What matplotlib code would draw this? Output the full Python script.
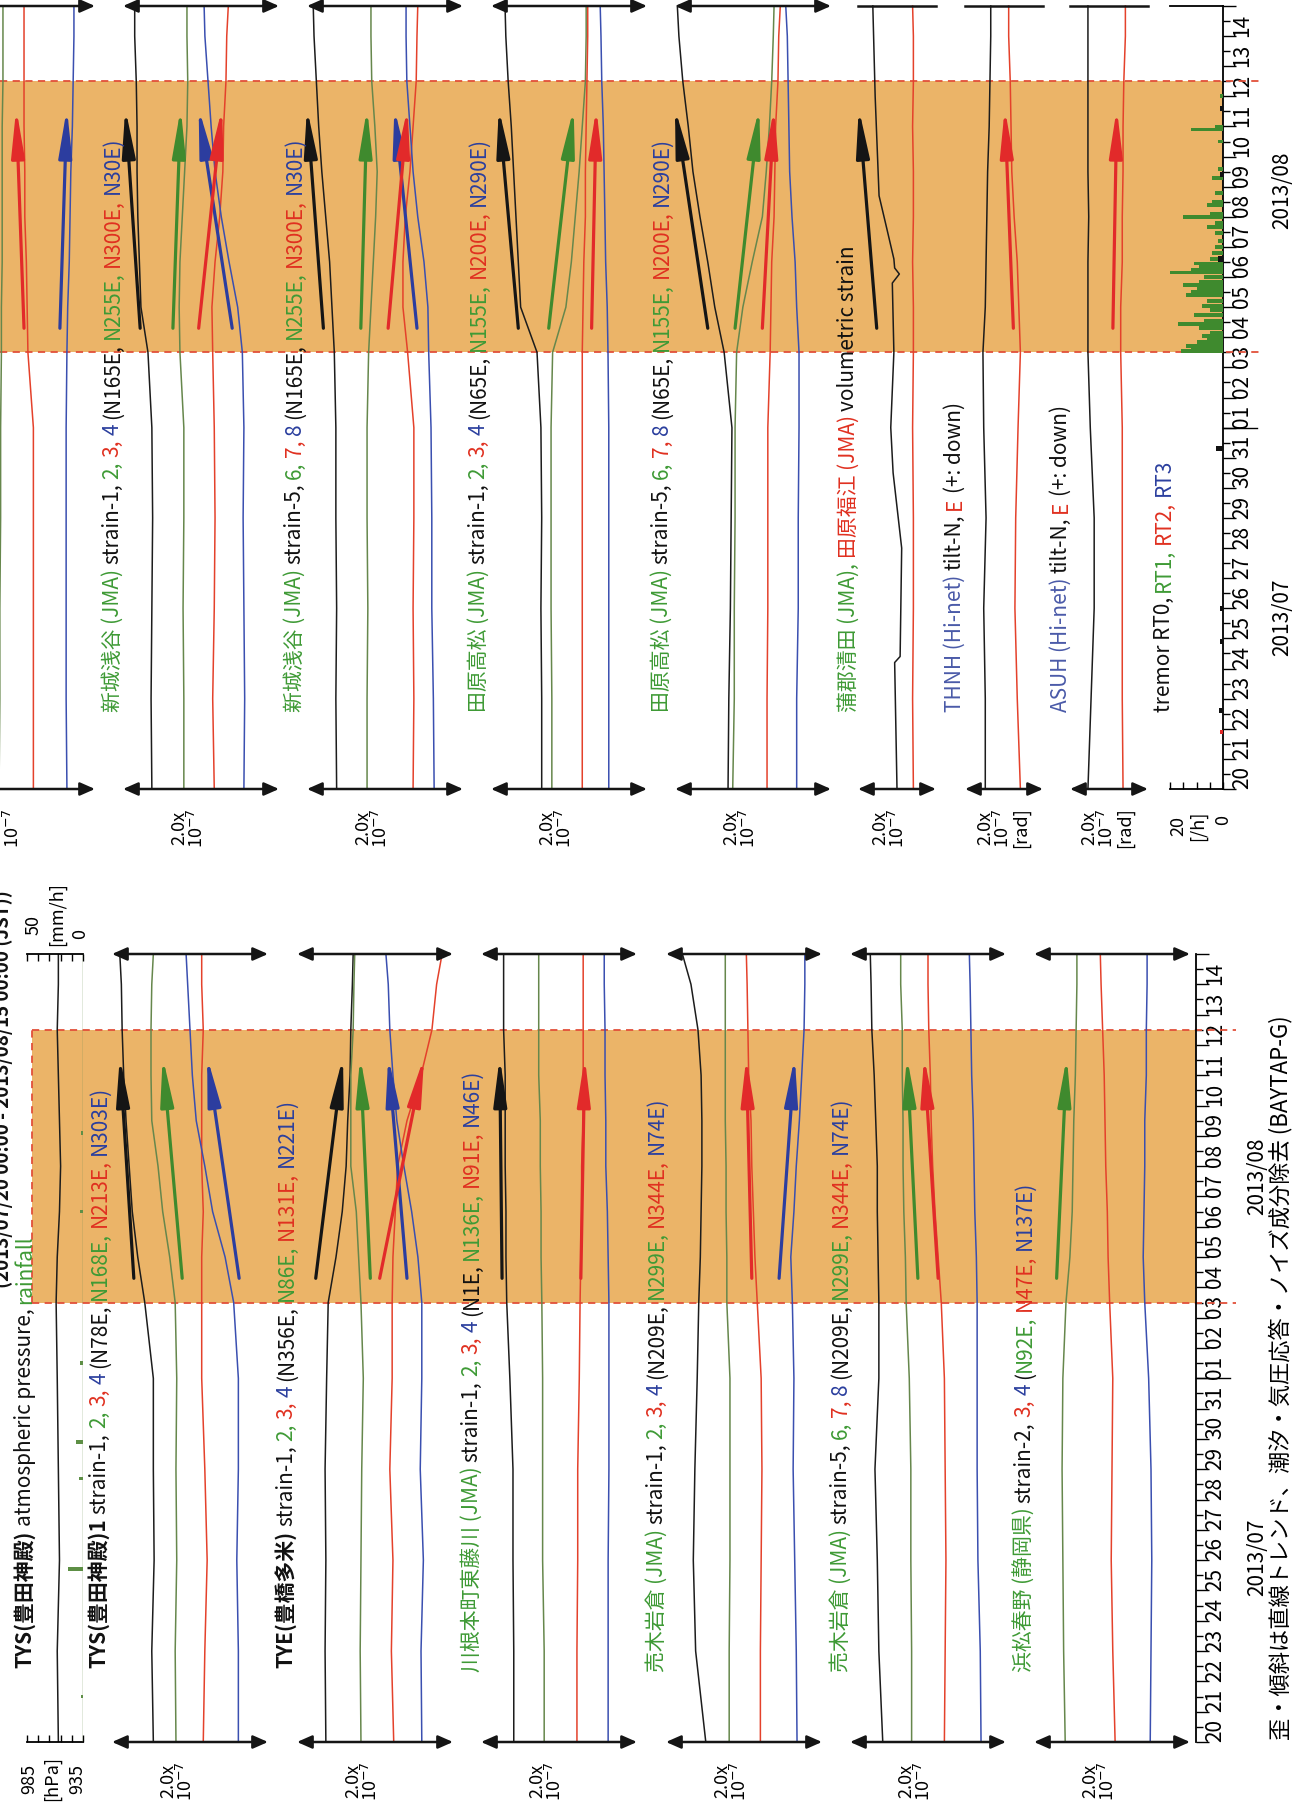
import matplotlib
matplotlib.use('Agg')
import matplotlib.pyplot as plt
from matplotlib.font_manager import FontProperties

FAMILY = ['Noto Sans CJK JP', 'DejaVu Sans']
plt.rcParams['font.family'] = FAMILY
plt.rcParams['mathtext.fontset'] = 'dejavusans'
plt.rcParams['axes.unicode_minus'] = False

W, H, DPI = 1297, 1808, 100

# ---------------- data ----------------
# time: days since 2013/07/20 00:00 (JST)
T = [0, 3, 6, 9, 12, 14.5, 16, 17.5, 19, 20.5, 22, 23.5, 25, 26]
SSE = (14.5, 23.5)           # shaded period
VEC_T = (15.3, 22.6)         # start / end time of the trend arrows
DAY_LABELS = ['20', '21', '22', '23', '24', '25', '26', '27', '28', '29', '30', '31',
              '01', '02', '03', '04', '05', '06', '07', '08', '09', '10', '11', '12', '13', '14']

# TYS atmospheric pressure [hPa], rainfall [mm/h]
TYS_PRESS = [957, 958, 956, 957, 958, 959, 958, 956, 955, 956, 957, 958, 957, 957]
RAIN_T = [1.5, 5.7, 8.7, 9.9, 12.5, 17.5, 20.1]
RAIN_MM = [2, 13, 4, 6, 3, 3, 2]

# strain traces, plotted offsets in 1e-8 (panel width 2.0e-7); ch order black, green, red, blue
TYS_1 = [[5.3, 5.1, 5.4, 5.3, 5.3, 4.2, 3.3, 2.6, 2.2, 1.8, 1.5, 1.3, 1.2, 1.0],
         [8.2, 8.1, 8.3, 8.2, 8.3, 8.1, 7.4, 6.5, 5.9, 5.1, 5.0, 5.0, 5.1, 5.3],
         [11.7, 11.9, 12.2, 11.9, 11.5, 11.5, 11.5, 11.7, 11.5, 11.5, 11.5, 11.7, 11.5, 11.5],
         [16.2, 16.2, 16.0, 16.2, 16.2, 15.6, 14.5, 12.9, 11.9, 10.8, 10.3, 10.0, 9.7, 9.5]]
TYS_1_VEC = [('k', 2.8, 1.0), ('g', 9.0, 6.5), ('b', 16.3, 12.2)]

TYE = [[3.7, 3.6, 3.7, 3.6, 3.8, 4.0, 5.0, 5.8, 6.3, 6.5, 6.8, 6.9, 7.1, 7.2],
       [8.2, 8.1, 8.2, 8.3, 8.5, 8.2, 7.9, 7.6, 6.9, 6.9, 6.9, 7.2, 7.3, 7.4],
       [12.4, 12.1, 12.3, 11.9, 12.2, 12.2, 12.3, 12.6, 12.9, 14.1, 15.9, 17.3, 17.9, 18.6],
       [16.0, 15.9, 16.2, 15.8, 16.0, 16.0, 15.5, 14.7, 13.7, 12.8, 12.3, 11.9, 11.7, 11.4]]
TYE_VEC = [('k', 2.4, 5.9), ('g', 9.4, 8.1), ('b', 14.1, 11.7), ('r', 10.6, 16.3)]

KAWANE = [[4.2, 4.2, 4.1, 4.1, 3.7, 3.3, 3.2, 3.2, 3.1, 3.1, 3.1, 2.9, 2.9, 2.9],
          [8.1, 8.1, 7.9, 7.9, 7.9, 7.8, 7.7, 7.7, 7.6, 7.6, 7.4, 7.4, 7.4, 7.4],
          [12.3, 12.3, 12.4, 12.4, 12.6, 12.7, 12.8, 12.9, 12.9, 13.1, 13.1, 13.1, 13.1, 13.1],
          [16.3, 16.3, 16.3, 16.4, 16.4, 16.4, 16.3, 16.2, 16.0, 16.0, 15.9, 15.9, 15.8, 15.8]]
KAWANE_VEC = [('k', 2.7, 2.4), ('r', 12.8, 13.3)]

URUGI_1 = [[5.1, 3.8, 3.5, 3.7, 4.0, 4.2, 4.4, 4.5, 4.6, 4.6, 4.5, 4.1, 3.2, 2.1],
           [8.1, 8.1, 8.2, 8.2, 8.2, 7.8, 7.8, 7.7, 7.7, 7.6, 7.6, 7.6, 7.6, 7.6],
           [12.1, 12.1, 12.2, 12.3, 12.2, 11.7, 11.4, 11.2, 11.0, 10.9, 10.6, 10.5, 10.4, 10.3],
           [16.8, 16.7, 16.5, 16.3, 16.4, 16.2, 16.0, 16.4, 16.7, 17.1, 17.4, 17.7, 17.8, 17.8]]
URUGI_1_VEC = [('r', 11.0, 10.3), ('b', 14.5, 16.5)]

URUGI_2 = [[4.2, 3.7, 3.5, 3.2, 3.7, 3.7, 3.6, 3.5, 3.5, 3.3, 3.1, 2.8, 2.7, 2.6],
           [7.9, 7.9, 7.8, 7.8, 7.6, 7.2, 7.1, 6.9, 6.8, 6.8, 6.7, 6.7, 6.5, 6.5],
           [12.1, 12.2, 12.3, 12.2, 12.1, 11.7, 11.3, 10.9, 10.6, 10.4, 10.3, 10.1, 10.0, 10.0],
           [16.8, 16.7, 16.4, 16.3, 16.3, 16.3, 16.2, 16.0, 15.9, 15.8, 15.6, 15.5, 15.4, 15.3]]
URUGI_2_VEC = [('g', 8.7, 7.3), ('r', 11.3, 9.5)]

HARUNO = [[4.0, 3.8, 3.7, 3.6, 3.7, 4.1, 4.6, 4.9, 5.0, 5.1, 5.3, 5.4, 5.5, 5.5],
          [10.4, 10.1, 9.9, 10.0, 10.1, 9.7, 9.5, 9.4, 9.2, 9.1, 9.0, 8.8, 8.6, 8.5],
          [14.9, 15.0, 15.1, 15.0, 14.7, 14.2, 14.0, 14.1, 14.2, 14.2, 14.4, 14.4, 14.5, 14.5]]
HARUNO_VEC = [('g', 2.9, 4.2)]

TOP_CUT = [[7.7, 7.8, 7.8, 7.9, 7.9, 8.0, 8.0, 8.1, 8.1, 8.1, 8.1, 8.2, 8.2, 8.2],
           [12.1, 12.1, 12.1, 12.1, 12.1, 11.4, 11.3, 11.2, 11.0, 11.0, 10.9, 10.9, 10.9, 10.9],
           [16.4, 16.3, 16.3, 16.3, 16.3, 16.4, 16.5, 16.7, 16.8, 16.9, 17.1, 17.2, 17.3, 17.3]]
TOP_CUT_VEC = [('r', 10.9, 9.9), ('b', 15.5, 16.4)]

SHINSHIRO_1 = [[3.7, 3.6, 3.7, 3.8, 3.7, 3.2, 2.3, 2.1, 1.9, 1.8, 1.8, 1.7, 1.5, 1.5],
               [7.8, 7.8, 7.7, 7.8, 7.8, 7.3, 7.2, 7.3, 7.6, 7.9, 8.2, 8.3, 8.2, 8.2],
               [11.7, 11.5, 11.7, 11.8, 11.7, 11.5, 11.4, 11.8, 12.4, 12.8, 12.9, 13.2, 13.3, 13.5],
               [15.5, 15.6, 15.5, 15.4, 15.5, 15.3, 14.7, 13.6, 12.6, 11.8, 11.3, 10.9, 10.5, 10.4]]
SHINSHIRO_1_VEC = [('k', 2.2, 0.3), ('g', 6.4, 7.4), ('b', 14.0, 9.7), ('r', 9.7, 12.7)]

SHINSHIRO_2 = [[3.8, 3.7, 3.8, 3.7, 3.7, 3.5, 3.2, 2.9, 2.4, 1.9, 1.5, 1.2, 0.9, 0.8],
               [7.7, 7.7, 7.8, 7.7, 7.7, 7.9, 8.2, 8.5, 8.8, 9.0, 8.7, 8.3, 8.2, 8.2],
               [13.6, 13.7, 13.6, 13.7, 13.7, 12.9, 12.3, 12.3, 12.6, 13.2, 13.6, 14.0, 14.1, 14.2],
               [16.3, 16.2, 16.0, 16.0, 15.9, 15.6, 15.5, 15.0, 14.2, 13.6, 13.2, 12.8, 12.7, 12.7]]
SHINSHIRO_2_VEC = [('k', 2.1, 0.0), ('g', 6.9, 7.7), ('b', 14.1, 11.2), ('r', 10.4, 12.9)]

TAHARA_1 = [[6.5, 6.5, 6.4, 6.5, 6.4, 5.9, 3.8, 3.5, 3.2, 2.9, 2.6, 2.2, 1.9, 1.8],
            [7.8, 7.8, 7.7, 7.7, 7.7, 7.9, 9.6, 10.3, 10.8, 11.3, 11.7, 12.1, 12.2, 12.2],
            [11.7, 11.7, 11.7, 11.7, 11.7, 11.7, 11.8, 11.9, 12.1, 12.1, 12.2, 12.3, 12.4, 12.4],
            [15.1, 15.1, 15.1, 15.1, 15.1, 15.0, 14.9, 14.7, 14.6, 14.5, 14.4, 14.2, 14.1, 14.0]]
TAHARA_1_VEC = [('k', 3.5, 1.0), ('g', 7.4, 10.6), ('r', 12.9, 13.5)]

TAHARA_2 = [[6.8, 6.9, 7.1, 7.2, 7.3, 6.3, 5.1, 4.2, 3.2, 2.3, 1.7, 1.0, 0.5, 0.3],
            [7.4, 7.6, 7.6, 7.7, 7.7, 7.9, 8.7, 9.9, 11.2, 11.7, 12.1, 12.4, 12.6, 12.7],
            [11.8, 11.8, 11.9, 11.9, 11.9, 12.2, 12.3, 12.4, 12.7, 12.8, 12.9, 13.2, 13.3, 13.5],
            [15.6, 15.6, 15.8, 15.8, 15.9, 15.9, 15.6, 15.4, 15.0, 14.7, 14.6, 14.5, 14.4, 14.2]]
TAHARA_2_VEC = [('k', 4.2, 0.0), ('g', 7.7, 10.8), ('r', 11.2, 12.7)]

# volumetric strain (panel width 1.0e-7)
VOL_T = [0, 4.2, 4.4, 8, 10.5, 12, 14.5, 16.8, 17.1, 17.3, 17.6, 18.6, 19.7, 23, 26]
GAMAGORI = [5.0, 4.7, 5.4, 5.6, 4.5, 4.2, 4.6, 4.4, 5.3, 4.7, 4.6, 3.7, 2.7, 2.2, 1.9]
FUKUE = [7.1, 7.0, 7.1, 7.1, 7.0, 7.1, 7.1, 7.0, 7.1, 7.1, 7.0, 7.1, 7.1, 7.0]
VOL_VEC = [('k', 2.4, 0.1)]

# Hi-net tilt (panel width 1.0e-7 rad): N black, E red
THNH = [[2.6, 2.6, 2.4, 2.7, 2.4, 2.3, 2.6, 2.7, 2.8, 2.9, 3.1, 3.2, 3.3, 3.3],
        [7.1, 6.7, 6.4, 6.5, 6.8, 7.1, 6.9, 6.7, 6.3, 6.0, 5.9, 5.8, 5.6, 5.6]]
THNH_VEC = [('r', 6.2, 5.1)]
ASUH = [[2.3, 2.7, 3.1, 3.1, 2.6, 2.3, 2.3, 2.3, 2.4, 2.3, 2.3, 2.3, 2.3, 2.3],
        [6.8, 6.7, 6.7, 6.7, 6.7, 6.5, 6.5, 6.7, 6.7, 6.8, 6.8, 6.9, 7.1, 7.1]]
ASUH_VEC = [('r', 5.5, 6.0)]

# tremor counts per hour
TREMOR_T = [14.55, 14.6, 14.7, 14.75, 14.85, 14.95, 15.05, 15.15, 15.3, 15.45, 15.55, 15.75, 15.9,
            16.05, 16.2, 16.4, 16.5, 16.6, 16.75, 16.85, 17.0, 17.15, 17.25, 17.35, 17.45, 17.6, 17.8,
            18.0, 18.2, 18.45, 18.65, 18.8, 19.0, 19.1, 19.4, 19.5, 19.8, 20.3, 20.6, 21.5, 21.9, 22.0, 23.0]
TREMOR_N = [16, 12, 14, 8, 10, 6, 8, 5, 9, 17, 7, 11, 5,
            8, 6, 14, 12, 10, 15, 9, 7, 20, 12, 9, 11, 5, 4,
            3, 2, 3, 6, 3, 15, 5, 6, 4, 3, 4, 2, 2, 12, 3, 1]
RT0_T = [2.6, 4.9, 6.0, 11.3, 17.6, 20.4, 22.6]
RT0_N = [1.5, 1, 1, 2.5, 2, 1, 1]
RT2_T = [1.9]
RT2_N = [1]

# ---------------- styling ----------------
TRC = {'k': '#1c1c1c', 'g': '#66874c', 'r': '#e4412b', 'b': '#3a4fb0'}
ARC = {'k': '#151515', 'g': '#3f8a2e', 'r': '#e22a2a', 'b': '#2c3d9f'}
LG, LR, LB, LK, LL = '#3e9a35', '#e03020', '#2b3f9e', '#111111', '#4a5aa8'
SHADE = '#ebb468'
DASH = '#e2503a'
LABEL_SIZE = 15

fig = plt.figure(figsize=(W / DPI, H / DPI), dpi=DPI)
fig.patch.set_facecolor('white')
renderer = fig.canvas.get_renderer()

LEFT = dict(y0=1743, y1=955, axis=1196, shade0=32, ext=40)
RIGHT = dict(y0=790, y1=7, axis=1223, shade0=0, ext=40)


def px_axes(x0, x1, ytop, ybot, z=1):
    ax = fig.add_axes([x0 / W, 1 - ybot / H, (x1 - x0) / W, (ybot - ytop) / H])
    ax.set_zorder(z)
    ax.patch.set_alpha(0)
    return ax


def text_w(s, prop):
    w, h, d = renderer.get_text_width_height_descent(s, prop, ismath=False)
    return w


def rot_label(xc, ybot, parts, size=LABEL_SIZE):
    xb = xc + 0.36 * size * DPI / 72.0
    y = H - ybot
    for part in parts:
        s, c = part[0], part[1]
        wt = part[2] if len(part) > 2 else 'normal'
        prop = FontProperties(family=FAMILY, size=size, weight=wt)
        sp = text_w('a a', prop) - text_w('aa', prop)
        core = s.strip(' ')
        y += (len(s) - len(s.lstrip(' '))) * sp
        fig.text(xb / W, y / H, core, rotation=90, rotation_mode='anchor',
                 ha='left', va='baseline', color=c, fontproperties=prop)
        y += text_w(core, prop) + (len(s) - len(s.rstrip(' '))) * sp


def frame(col, left_border):
    ax = px_axes(col['shade0'], col['axis'], col['y1'], col['y0'], z=0)
    ax.set_xlim(0, 1)
    ax.set_ylim(0, 26)
    for s in ['left', 'top', 'bottom']:
        ax.spines[s].set_visible(False)
    ax.spines['right'].set_linewidth(1.3)
    ax.set_xticks([])
    ax.yaxis.set_ticks_position('right')
    ax.set_yticks(range(27), labels=[''] * 27)
    ax.set_yticks([d + 0.5 for d in range(26)], labels=DAY_LABELS, minor=True)
    ax.tick_params(axis='y', which='major', length=9, width=1.0, direction='out')
    ax.tick_params(axis='y', which='minor', length=5, width=1.0, direction='out',
                   labelsize=15, labelrotation=90, pad=1)
    ax.axhspan(SSE[0], SSE[1], color=SHADE, lw=0, zorder=0)
    wpx = col['axis'] - col['shade0']
    ext = 1 + col['ext'] / wpx
    for tt in SSE:
        ax.plot([0, ext], [tt, tt], ls=(0, (4, 3)), color=DASH, lw=1.3, clip_on=False)
    if left_border:
        ax.plot([0, 0], SSE, ls=(0, (4, 3)), color=DASH, lw=1.3, clip_on=False)
    ax.plot([1, 1 + 34 / wpx], [12, 12], color='k', lw=1.0, clip_on=False)
    return ax


def dbl_arrow(ax, y, xmax):
    ax.annotate('', xy=(xmax, y), xytext=(0, y), annotation_clip=False,
                arrowprops=dict(arrowstyle='<|-|>,head_length=0.75,head_width=0.33',
                                mutation_scale=12, color='#151515', lw=1.8,
                                shrinkA=0, shrinkB=0))


def panel(col, x0, width, xmax, traces, vecs, top_arrow=True, scale_txt=None, scale_dx=66):
    ax = px_axes(x0, x0 + width, col['y1'], col['y0'], z=2)
    ax.set_xlim(0, xmax)
    ax.set_ylim(0, 26)
    ax.axis('off')
    for tt, vals, c in traces:
        ax.plot(vals, tt, color=TRC[c], lw=1.1, clip_on=False)
    for c, a, b in vecs:
        ax.annotate('', xy=(b, VEC_T[1]), xytext=(a, VEC_T[0]),
                    arrowprops=dict(arrowstyle='-|>,head_length=2.4,head_width=0.33',
                                    mutation_scale=12, color=ARC[c], lw=2.3,
                                    shrinkA=0, shrinkB=0))
    dbl_arrow(ax, 0, xmax)
    if top_arrow:
        dbl_arrow(ax, 26, xmax)
    else:
        ax.plot([0, xmax], [26, 26], color='#151515', lw=1.8, clip_on=False)
    txt = scale_txt or '2.0x\n10$^{-7}$'
    fig.text((x0 + scale_dx) / W, 1 - (col['y0'] + 38) / H, txt, rotation=90,
             ha='center', va='center', fontsize=13, linespacing=0.9)
    return ax


def four(data, cols='kgrb'):
    return [(T, d, c) for d, c in zip(data, cols)]


# ---- frames with shading and time axes ----
frame(LEFT, True)
frame(RIGHT, False)

# ---- left column (bottom half of page) ----
axp = px_axes(27, 83, LEFT['y1'], LEFT['y0'], z=2)
axp.set_xlim(985, 935)
axp.set_ylim(0, 26)
axp.plot(TYS_PRESS, T, color='#1c1c1c', lw=1.1)
for s in ['left', 'right', 'top']:
    axp.spines[s].set_visible(False)
axp.spines['bottom'].set_linewidth(1.3)
axp.set_yticks([])
axp.set_xticks([985, 975, 965, 955, 945, 935], labels=[''] * 6)
axp.tick_params(axis='x', direction='in', length=5, width=1.0)

axr = px_axes(27, 83, LEFT['y1'], LEFT['y0'], z=2)
axr.set_xlim(50, 0)
axr.set_ylim(0, 26)
axr.axvline(0, color='#6f8f55', lw=1.0)
axr.barh(RAIN_T, RAIN_MM, height=0.12, color='#5d8f45')
for s in ['left', 'right', 'bottom']:
    axr.spines[s].set_visible(False)
axr.spines['top'].set_linewidth(1.3)
axr.set_yticks([])
axr.xaxis.set_ticks_position('top')
axr.set_xticks([50, 40, 30, 20, 10, 0], labels=[''] * 6)
axr.tick_params(axis='x', direction='in', length=5, width=1.0)

for txt, x, y in [('985', 29, 1779), ('[hPa]', 52, 1779), ('935', 77, 1779),
                  ('50', 34, 925), ('[mm/h]', 57, 914), ('0', 80, 934)]:
    fig.text(x / W, 1 - y / H, txt, rotation=90, ha='center', va='center', fontsize=13)

L_STARTS = [112, 297, 481, 666, 850, 1034]
panel(LEFT, L_STARTS[0], 156, 20, four(TYS_1), TYS_1_VEC)
panel(LEFT, L_STARTS[1], 156, 20, four(TYE), TYE_VEC)
panel(LEFT, L_STARTS[2], 156, 20, four(KAWANE), KAWANE_VEC)
panel(LEFT, L_STARTS[3], 156, 20, four(URUGI_1), URUGI_1_VEC)
panel(LEFT, L_STARTS[4], 156, 20, four(URUGI_2), URUGI_2_VEC)
panel(LEFT, L_STARTS[5], 156, 20, four(HARUNO, 'grb'), HARUNO_VEC)

# ---- right column (top half of page) ----
R_STARTS = [-61, 123, 307, 491, 675]
panel(RIGHT, R_STARTS[0], 156, 20, four(TOP_CUT, 'grb'), TOP_CUT_VEC)
panel(RIGHT, R_STARTS[1], 156, 20, four(SHINSHIRO_1), SHINSHIRO_1_VEC)
panel(RIGHT, R_STARTS[2], 156, 20, four(SHINSHIRO_2), SHINSHIRO_2_VEC)
panel(RIGHT, R_STARTS[3], 156, 20, four(TAHARA_1), TAHARA_1_VEC)
panel(RIGHT, R_STARTS[4], 156, 20, four(TAHARA_2), TAHARA_2_VEC)
panel(RIGHT, 858, 78, 10, [(VOL_T, GAMAGORI, 'k'), (T, FUKUE, 'r')], VOL_VEC,
      top_arrow=False, scale_dx=32)
panel(RIGHT, 965, 78, 10, four(THNH, 'kr'), THNH_VEC, top_arrow=False,
      scale_txt='2.0x\n10$^{-7}$\n[rad]', scale_dx=38)
panel(RIGHT, 1070, 78, 10, four(ASUH, 'kr'), ASUH_VEC, top_arrow=False,
      scale_txt='2.0x\n10$^{-7}$\n[rad]', scale_dx=37)

axt = px_axes(1170, 1223, RIGHT['y1'], RIGHT['y0'], z=2)
axt.set_xlim(20, 0)
axt.set_ylim(0, 26)
axt.barh(TREMOR_T, TREMOR_N, height=0.13, color='#3f8a2e')
axt.barh(RT0_T, RT0_N, height=0.18, color='#111111')
axt.barh(RT2_T, RT2_N, height=0.12, color='#e22a2a')
for s in ['left', 'right']:
    axt.spines[s].set_visible(False)
axt.spines['bottom'].set_linewidth(1.3)
axt.spines['top'].set_linewidth(1.3)
axt.set_yticks([])
axt.set_xticks([20, 15, 10, 5, 0], labels=[''] * 5)
axt.tick_params(axis='x', direction='in', length=5, width=1.0)
for txt, x, y in [('20', 1178, 826), ('[/h]', 1198, 826), ('0', 1223, 820)]:
    fig.text(x / W, 1 - y / H, txt, rotation=90, ha='center', va='center', fontsize=13)

# ---- panel labels ----
K_DIR = [(' 2,', LG), (' 3,', LR), (' 4', LB)]
rot_label(24, 1668, [('TYS(豊田神殿)', LK, 'bold'), (' atmospheric pressure,', LK), (' rainfall', LG)])
rot_label(98, 1668, [('TYS(豊田神殿)1', LK, 'bold'), (' strain-1,', LK)] + K_DIR +
          [(' (N78E,', LK), (' N168E,', LG), (' N213E,', LR), (' N303E)', LB)])
rot_label(285, 1668, [('TYE(豊橋多米)', LK, 'bold'), (' strain-1,', LK)] + K_DIR +
          [(' (N356E,', LK), (' N86E,', LG), (' N131E,', LR), (' N221E)', LB)])
rot_label(470, 1672, [('川根本町東藤川 (JMA)', LG), (' strain-1,', LK)] + K_DIR +
          [(' (N1E,', LK), (' N136E,', LG), (' N91E,', LR), (' N46E)', LB)])
rot_label(655, 1672, [('売木岩倉 (JMA)', LG), (' strain-1,', LK)] + K_DIR +
          [(' (N209E,', LK), (' N299E,', LG), (' N344E,', LR), (' N74E)', LB)])
rot_label(839, 1672, [('売木岩倉 (JMA)', LG), (' strain-5,', LK), (' 6,', LG), (' 7,', LR), (' 8', LB),
                      (' (N209E,', LK), (' N299E,', LG), (' N344E,', LR), (' N74E)', LB)])
rot_label(1023, 1672, [('浜松春野 (静岡県)', LG), (' strain-2,', LK), (' 3,', LR), (' 4', LB),
                       (' (', LK), ('N92E,', LG), (' N47E,', LR), (' N137E)', LB)])

rot_label(111, 712, [('新城浅谷 (JMA)', LG), (' strain-1,', LK)] + K_DIR +
          [(' (N165E,', LK), (' N255E,', LG), (' N300E,', LR), (' N30E)', LB)])
rot_label(293, 712, [('新城浅谷 (JMA)', LG), (' strain-5,', LK), (' 6,', LG), (' 7,', LR), (' 8', LB),
                     (' (N165E,', LK), (' N255E,', LG), (' N300E,', LR), (' N30E)', LB)])
rot_label(477, 712, [('田原高松 (JMA)', LG), (' strain-1,', LK)] + K_DIR +
          [(' (N65E,', LK), (' N155E,', LG), (' N200E,', LR), (' N290E)', LB)])
rot_label(660, 712, [('田原高松 (JMA)', LG), (' strain-5,', LK), (' 6,', LG), (' 7,', LR), (' 8', LB),
                     (' (N65E,', LK), (' N155E,', LG), (' N200E,', LR), (' N290E)', LB)])
rot_label(847, 712, [('蒲郡清田 (JMA),', LG), (' 田原福江 (JMA)', LR), (' volumetric strain', LK)])
rot_label(953, 712, [('THNH (Hi-net)', LL), (' tilt-N,', LK), (' E', LR), (' (+: down)', LK)])
rot_label(1059, 712, [('ASUH (Hi-net)', LL), (' tilt-N,', LK), (' E', LR), (' (+: down)', LK)])
rot_label(1162, 712, [('tremor RT0,', LK), (' RT1,', LG), (' RT2,', LR), (' RT3', LB)])

# partially cut title at the left edge
rot_label(2, 1288, [('(2013/07/20 00:00 - 2013/08/15 00:00 (JST))', LK, 'bold')], size=13.5)

# month labels and caption
for txt, x, y in [('2013/07', 1257, 1557), ('2013/08', 1257, 1176),
                  ('2013/07', 1282, 617), ('2013/08', 1282, 190)]:
    fig.text(x / W, 1 - y / H, txt, rotation=90, ha='center', va='center', fontsize=15)
fig.text(1281 / W, 1 - 1378 / H, '歪・傾斜は直線トレンド、潮汐・気圧応答・ノイズ成分除去 (BAYTAP-G)',
         rotation=90, ha='center', va='center', fontsize=16)

fig.savefig('out.png', dpi=DPI)
